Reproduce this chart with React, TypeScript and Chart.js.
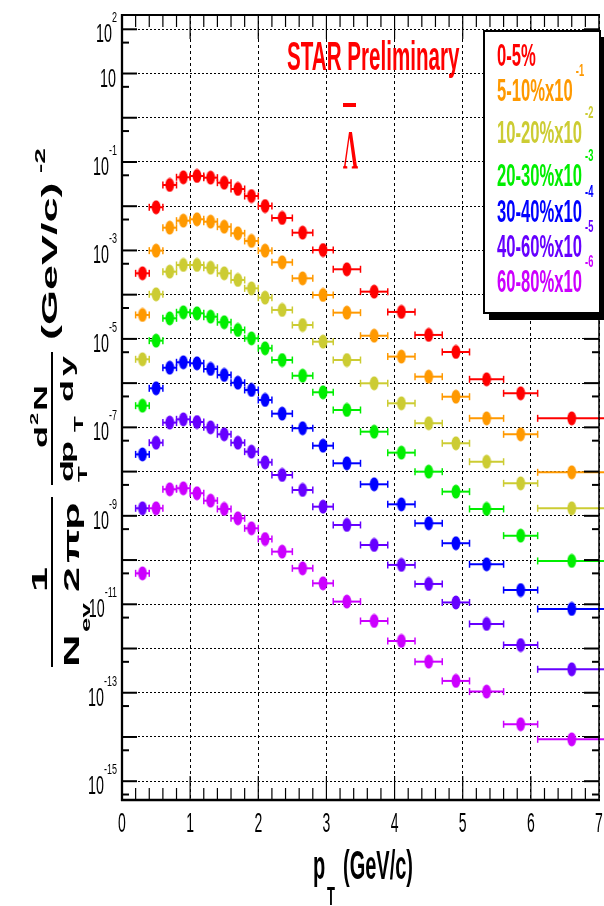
import React, { useEffect, useRef } from 'react';
import { Chart, registerables } from 'chart.js';
Chart.register(...registerables);

// pT bins (GeV/c)
const ptCenters = [0.3, 0.5, 0.7, 0.9, 1.1, 1.3, 1.5, 1.7, 1.9, 2.1, 2.35, 2.65, 2.95, 3.3, 3.7, 4.1, 4.5, 4.9, 5.35, 5.85, 6.6];
const ptLow = [0.2, 0.4, 0.6, 0.8, 1.0, 1.2, 1.4, 1.6, 1.8, 2.0, 2.2, 2.5, 2.8, 3.1, 3.5, 3.9, 4.3, 4.7, 5.1, 5.6, 6.1];
const ptHigh = [0.4, 0.6, 0.8, 1.0, 1.2, 1.4, 1.6, 1.8, 2.0, 2.2, 2.5, 2.8, 3.1, 3.5, 3.9, 4.3, 4.7, 5.1, 5.6, 6.1, 7.1];

// Spectra as plotted (already scaled)
const cent0_5 = [3.04e-4, 9.46e-3, 3.02e-2, 4.51e-2, 4.82e-2, 4.42e-2, 3.40e-2, 2.45e-2, 1.70e-2, 1.01e-2, 5.42e-3, 2.52e-3, 1.02e-3, 3.75e-4, 1.17e-4, 4.07e-5, 1.23e-5, 5.06e-6, 1.22e-6, 5.89e-7, 1.60e-7];
const cent5_10 = [3.48e-5, 9.89e-4, 3.27e-3, 4.71e-3, 5.06e-3, 4.47e-3, 3.44e-3, 2.44e-3, 1.64e-3, 9.89e-4, 5.40e-4, 2.34e-4, 9.84e-5, 3.92e-5, 1.18e-5, 3.98e-6, 1.40e-6, 4.93e-7, 1.60e-7, 6.97e-8, 9.64e-9];
const cent10_20 = [3.46e-6, 1.02e-4, 3.31e-4, 4.69e-4, 4.69e-4, 4.07e-4, 3.04e-4, 2.15e-4, 1.39e-4, 8.55e-5, 4.51e-5, 2.06e-5, 8.65e-6, 3.33e-6, 9.91e-7, 3.50e-7, 1.24e-7, 4.37e-8, 1.67e-8, 5.43e-9, 1.48e-9];
const cent20_30 = [3.09e-7, 9.12e-6, 2.92e-5, 4.00e-5, 3.79e-5, 3.18e-5, 2.38e-5, 1.59e-5, 1.03e-5, 6.14e-6, 3.33e-6, 1.47e-6, 6.21e-7, 2.47e-7, 7.98e-8, 2.68e-8, 9.95e-9, 3.52e-9, 1.43e-9, 3.56e-10, 9.55e-11];
const cent30_40 = [2.45e-8, 7.64e-7, 2.23e-6, 2.96e-6, 2.81e-6, 2.09e-6, 1.53e-6, 1.02e-6, 7.00e-7, 4.16e-7, 2.04e-7, 9.55e-8, 3.85e-8, 1.54e-8, 5.16e-9, 1.82e-9, 6.78e-10, 2.40e-10, 8.02e-11, 2.10e-11, 7.83e-12];
const cent40_60 = [1.48e-9, 4.50e-8, 1.28e-7, 1.52e-7, 1.32e-7, 1.00e-7, 6.97e-8, 4.50e-8, 2.82e-8, 1.62e-8, 8.38e-9, 3.84e-9, 1.61e-9, 6.21e-10, 2.19e-10, 7.76e-11, 2.88e-11, 1.10e-11, 3.59e-12, 1.20e-12, 3.39e-13];
const cent60_80 = [5.01e-11, 1.48e-9, 3.98e-9, 4.20e-9, 3.24e-9, 2.20e-9, 1.43e-9, 8.79e-10, 5.22e-10, 2.99e-10, 1.55e-10, 6.50e-11, 2.98e-11, 1.15e-11, 4.19e-12, 1.48e-12, 5.04e-13, 1.85e-13, 1.06e-13, 1.94e-14, 8.85e-15];

const seriesValues = [cent0_5, cent5_10, cent10_20, cent20_30, cent30_40, cent40_60, cent60_80];
const seriesLabels = ['0-5%', '5-10%x10', '10-20%x10', '20-30%x10', '30-40%x10', '40-60%x10', '60-80%x10'];
const seriesExps = ['', '-1', '-2', '-3', '-4', '-5', '-6'];
const seriesColors = ['#ff0000', '#ff9900', '#cccc33', '#00ee00', '#0000ff', '#6600ff', '#cc00ff'];

const xTickLabels = ['0', '1', '2', '3', '4', '5', '6', '7'];
const yGridExps = [-15, -14, -13, -12, -11, -10, -9, -8, -7, -6, -5, -4, -3, -2, -1, 0, 1, 2];
const yLabelExps = [2, 1, -1, -3, -5, -7, -9, -11, -13, -15];

const Y_MIN = Math.pow(10, -15.425);
const Y_MAX = Math.pow(10, 2.323);

const SANS = '"Liberation Sans", Arial, sans-serif';
const SERIF = '"Liberation Serif", "Times New Roman", serif';

function makeMarker(color: string): HTMLCanvasElement {
  const c = document.createElement('canvas');
  c.width = 10;
  c.height = 15;
  const g = c.getContext('2d')!;
  g.fillStyle = color;
  g.beginPath();
  g.ellipse(5, 7.5, 4.4, 7.0, 0, 0, Math.PI * 2);
  g.fill();
  return c;
}

function hText(ctx: CanvasRenderingContext2D, s: string, x: number, y: number, font: string, sx: number, color: string, align: 'left' | 'center' | 'right' = 'left') {
  ctx.save();
  ctx.font = font;
  ctx.fillStyle = color;
  ctx.textBaseline = 'alphabetic';
  ctx.textAlign = 'left';
  const w = ctx.measureText(s).width * sx;
  let x0 = x;
  if (align === 'center') x0 = x - w / 2;
  else if (align === 'right') x0 = x - w;
  ctx.translate(x0, y);
  ctx.scale(sx, 1);
  ctx.fillText(s, 0, 0);
  ctx.restore();
  return w;
}

function textW(ctx: CanvasRenderingContext2D, s: string, font: string, sx: number) {
  ctx.save();
  ctx.font = font;
  const w = ctx.measureText(s).width * sx;
  ctx.restore();
  return w;
}

function upText(ctx: CanvasRenderingContext2D, s: string, bx: number, sy: number, font: string, thick: number, color = '#000') {
  ctx.save();
  ctx.font = font;
  ctx.fillStyle = color;
  ctx.textBaseline = 'alphabetic';
  ctx.textAlign = 'left';
  ctx.translate(bx, sy);
  ctx.rotate(-Math.PI / 2);
  ctx.scale(1, thick);
  ctx.fillText(s, 0, 0);
  ctx.restore();
}

function fitText(ctx: CanvasRenderingContext2D, s: string, font: string, l: number, t: number, r: number, b: number, color: string) {
  ctx.save();
  ctx.font = font;
  ctx.textBaseline = 'alphabetic';
  ctx.textAlign = 'left';
  const m = ctx.measureText(s);
  const w = m.actualBoundingBoxLeft + m.actualBoundingBoxRight;
  const h = m.actualBoundingBoxAscent + m.actualBoundingBoxDescent;
  ctx.translate(l, t);
  ctx.scale((r - l) / w, (b - t) / h);
  ctx.fillStyle = color;
  ctx.fillText(s, m.actualBoundingBoxLeft, m.actualBoundingBoxAscent);
  ctx.restore();
}

function seg(ctx: CanvasRenderingContext2D, x1: number, y1: number, x2: number, y2: number) {
  ctx.beginPath();
  ctx.moveTo(x1, y1);
  ctx.lineTo(x2, y2);
  ctx.stroke();
}

const bgPlugin = {
  id: 'bg',
  beforeDraw(chart: any) {
    const ctx = chart.ctx;
    ctx.save();
    ctx.fillStyle = '#ffffff';
    ctx.fillRect(0, 0, chart.width, chart.height);
    ctx.restore();
  },
};

const errorBarPlugin = {
  id: 'errbars',
  beforeDatasetsDraw(chart: any) {
    const ctx = chart.ctx;
    const xs = chart.scales.x;
    ctx.save();
    chart.data.datasets.forEach((ds: any, i: number) => {
      const meta = chart.getDatasetMeta(i);
      ctx.strokeStyle = ds.barColor;
      meta.data.forEach((pt: any, j: number) => {
        const y = pt.y;
        const xl = xs.getPixelForValue(ptLow[j]);
        const xh = xs.getPixelForValue(ptHigh[j]);
        ctx.lineWidth = 2;
        seg(ctx, xl, y, xh, y);
        ctx.lineWidth = 1.5;
        seg(ctx, xl, y - 3.5, xl, y + 3.5);
        seg(ctx, xh, y - 3.5, xh, y + 3.5);
      });
    });
    ctx.restore();
  },
};

const decorPlugin = {
  id: 'decor',
  afterDraw(chart: any) {
    const ctx: CanvasRenderingContext2D = chart.ctx;
    const xs = chart.scales.x;
    const ys = chart.scales.y;
    const { left, right, top, bottom } = chart.chartArea;
    ctx.save();
    ctx.strokeStyle = '#000';
    ctx.fillStyle = '#000';

    // y ticks (major at decades, minor at 5x10^n), both sides
    ctx.lineWidth = 2;
    for (let e = -16; e <= 2; e++) {
      const pairs: [number, number][] = [[Math.pow(10, e), 15], [5 * Math.pow(10, e), 7]];
      for (const [v, len] of pairs) {
        const py = ys.getPixelForValue(v);
        if (py < top + 1 || py > bottom - 1) continue;
        seg(ctx, left, py, left + len, py);
        seg(ctx, right, py, right - len, py);
      }
    }
    // x ticks (major at integers, minor every 0.2), bottom and top
    ctx.lineWidth = 1.2;
    for (let i = 1; i < 35; i++) {
      const px = xs.getPixelForValue(i * 0.2);
      const len = i % 5 === 0 ? 24 : 12;
      seg(ctx, px, bottom, px, bottom - len);
      seg(ctx, px, top, px, top + len);
    }

    // frame
    ctx.lineWidth = 2.3;
    seg(ctx, left, top - 1, left, bottom + 1);
    seg(ctx, left - 1, bottom, right + 1, bottom);
    ctx.lineWidth = 2;
    seg(ctx, left - 1, top, right + 1, top);
    ctx.lineWidth = 1.5;
    seg(ctx, right, top, right, bottom);

    // x tick labels
    xTickLabels.forEach((lab, i) => {
      const px = xs.getPixelForValue(i);
      hText(ctx, lab, px, 832, `28px ${SANS}`, 0.5, '#000', 'center');
    });

    // y tick labels
    yLabelExps.forEach((e) => {
      const py = ys.getPixelForValue(Math.pow(10, e));
      const baseFont = `26px ${SANS}`;
      const expFont = `15px ${SANS}`;
      const expStr = e === 1 ? '' : String(e);
      const w10 = textW(ctx, '10', baseFont, 0.55);
      const we = expStr ? textW(ctx, expStr, expFont, 0.6) : 0;
      const rightEdge = e === 1 ? 116 : 117;
      const x0 = rightEdge - w10 - we;
      hText(ctx, '10', x0, py + 13, baseFont, 0.55, '#000');
      if (expStr) hText(ctx, expStr, x0 + w10, py - 7, expFont, 0.6, '#000');
    });

    // x title: p_T (GeV/c)
    hText(ctx, 'p', 313, 879, `bold 40px ${SANS}`, 0.5, '#000');
    hText(ctx, 'T', 327, 905, `bold 25px ${SANS}`, 0.52, '#000');
    hText(ctx, '(GeV/c)', 343, 879, `bold 40px ${SANS}`, 0.5, '#000');

    // y title: 1/(N_ev 2π p_T) d²N/(dp_T dy) (GeV/c)^-2
    const F1 = `bold 45px ${SANS}`;
    const F2 = `bold 36px ${SANS}`;
    const FS = `bold 26px ${SANS}`;
    upText(ctx, '1', 47, 592, F1, 0.5);
    ctx.lineWidth = 2;
    seg(ctx, 52, 497, 52, 667);
    upText(ctx, 'N', 79, 667, F1, 0.5);
    upText(ctx, 'ev', 90, 632, FS, 0.5);
    upText(ctx, '2', 79, 592, F1, 0.5);
    upText(ctx, 'π', 79, 563, F1, 0.5);
    upText(ctx, 'p', 79, 530, F1, 0.5);
    upText(ctx, 'T', 87, 482, FS, 0.5);
    seg(ctx, 52, 352, 52, 485);
    upText(ctx, 'd', 47, 448, F2, 0.5);
    upText(ctx, '2', 38, 425, `bold 22px ${SANS}`, 0.5);
    upText(ctx, 'N', 47, 411, F2, 0.5);
    upText(ctx, 'd', 73, 482, F2, 0.5);
    upText(ctx, 'p', 73, 463, F2, 0.5);
    upText(ctx, 'T', 83, 432, FS, 0.5);
    upText(ctx, 'd', 73, 402, F2, 0.5);
    upText(ctx, 'y', 73, 376, F2, 0.5);
    upText(ctx, '(GeV/c)', 57, 340, F1, 0.5);
    upText(ctx, '-2', 45, 173, `bold 28px ${SANS}`, 0.55);

    // STAR Preliminary and anti-Lambda
    hText(ctx, 'STAR Preliminary', 287, 70, `bold 40px ${SANS}`, 0.515, '#ff0000');
    ctx.fillStyle = '#ff0000';
    ctx.fillRect(343, 103, 13, 4);
    fitText(ctx, 'Λ', `bold 60px ${SERIF}`, 343, 133, 358, 168, '#ff0000');

    // legend box with shadow
    ctx.fillStyle = '#000';
    ctx.fillRect(489, 37, 120, 283);
    ctx.fillStyle = '#fff';
    ctx.fillRect(484, 31, 116, 282);
    ctx.strokeStyle = '#000';
    ctx.lineWidth = 2;
    ctx.strokeRect(484, 31, 116, 282);

    const baselines = [66, 101, 143, 186, 222, 257, 292];
    seriesLabels.forEach((lab, i) => {
      const w = hText(ctx, lab, 497, baselines[i], `bold 32px ${SANS}`, 0.52, seriesColors[i]);
      if (seriesExps[i]) hText(ctx, seriesExps[i], 497 + w + 3, baselines[i] - 25, `bold 17px ${SANS}`, 0.55, seriesColors[i]);
    });

    ctx.restore();
  },
};

export default function App() {
  const ref = useRef<HTMLCanvasElement | null>(null);
  useEffect(() => {
    document.body.style.margin = '0';
    const canvas = ref.current!;
    const datasets = seriesValues.map((vals, i) => ({
      label: seriesLabels[i],
      data: vals.map((v, j) => ({ x: ptCenters[j], y: v })),
      pointStyle: makeMarker(seriesColors[i]),
      pointRadius: 4,
      showLine: false,
      barColor: seriesColors[i],
      borderColor: seriesColors[i],
      backgroundColor: seriesColors[i],
      clip: false,
    }));
    const chart = new Chart(canvas, {
      type: 'scatter',
      data: { datasets: datasets as any },
      options: {
        animation: false,
        responsive: false,
        events: [],
        layout: { padding: { left: 122, right: 3, top: 15, bottom: 106 } },
        plugins: { legend: { display: false }, tooltip: { enabled: false } },
        scales: {
          x: {
            type: 'linear',
            min: 0,
            max: 7,
            afterFit: (s: any) => { s.height = 0; },
            ticks: { display: false, stepSize: 1 },
            grid: { color: '#000', lineWidth: 1, drawTicks: false },
            border: { display: false, dash: [3, 3] },
          },
          y: {
            type: 'logarithmic',
            min: Y_MIN,
            max: Y_MAX,
            afterFit: (s: any) => { s.width = 0; },
            afterBuildTicks: (s: any) => { s.ticks = yGridExps.map((e) => ({ value: Math.pow(10, e) })); },
            ticks: { display: false },
            grid: { color: '#000', lineWidth: 1, drawTicks: false },
            border: { display: false, dash: [2, 2] },
          },
        },
      } as any,
      plugins: [bgPlugin, errorBarPlugin, decorPlugin],
    });
    return () => chart.destroy();
  }, []);
  return (
    <div style={{ position: 'absolute', left: 0, top: 0, width: 604, height: 906 }}>
      <canvas ref={ref} width={604} height={906} style={{ width: 604, height: 906, display: 'block' }} />
    </div>
  );
}
